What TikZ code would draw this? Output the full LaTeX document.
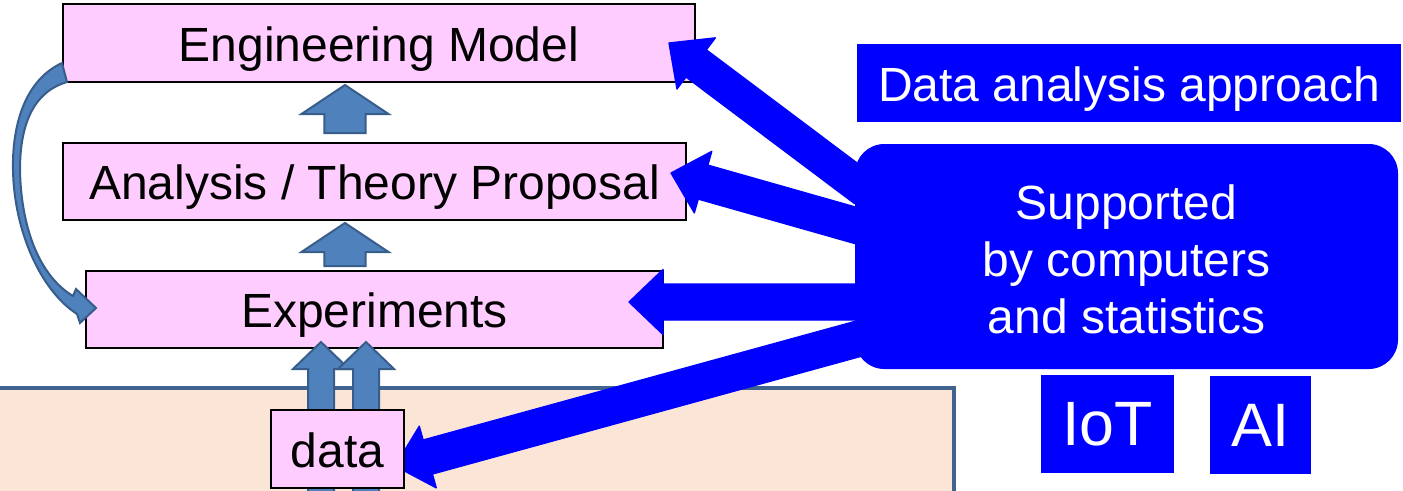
\documentclass[tikz,border=0pt]{standalone}
\usepackage{fontspec}
\setmainfont{Liberation Sans}
\usetikzlibrary{calc}

\definecolor{boxpink}{HTML}{FFCCFF}
\definecolor{groundfill}{HTML}{FBE5D6}
\definecolor{groundline}{HTML}{41648F}
\definecolor{steelfill}{HTML}{4F81BD}
\definecolor{steeldark}{HTML}{385D8A}
\definecolor{pureblue}{HTML}{0000FF}

\pgfdeclarelayer{front}
\pgfsetlayers{main,front}

% block arrow: #1 style, #2 tail, #3 tip, #4 half shaft width, #5 half head width, #6 head length
\newcommand\blockarrow[6]{%
  \coordinate (ba-h) at ($(#3)!#6!(#2)$);
  \path[#1] (#3) -- ($(ba-h)!#5!90:(#3)$) -- ($(ba-h)!#4!90:(#3)$)
    -- ($(#2)!#4!90:(#3)$) -- ($(#2)!#4!-90:(#3)$)
    -- ($(ba-h)!#4!-90:(#3)$) -- ($(ba-h)!#5!-90:(#3)$) -- cycle;
}

\tikzset{
  bigtext/.style={font=\fontsize{36pt}{43pt}\selectfont},
  pinkbox/.style={draw=black, line width=1.5pt, fill=boxpink, inner sep=0pt, bigtext,
    text height=30pt, text depth=3pt},
  bluebox/.style={fill=pureblue, text=white, inner sep=0pt, bigtext},
  bluearrow/.style={fill=pureblue, draw=pureblue, line width=1pt, line join=round},
  steelarrow/.style={fill=steelfill, draw=steeldark, line width=1.5pt, line join=miter},
}

\begin{document}
\begin{tikzpicture}[x=0.75pt, y=-0.75pt]
\useasboundingbox (0,0) rectangle (1403,490);
\clip (0,0) rectangle (1403,490);

% ground area
\path[fill=groundfill, draw=groundline, line width=3pt] (-20,388) rectangle (954,530);

% process boxes
\node[pinkbox, minimum width=474pt, minimum height=58.5pt] (eng) at (379,43) {Engineering Model};
\node[pinkbox, minimum width=467.25pt, minimum height=57.75pt] (ana) at (374.5,181.5) {Analysis / Theory Proposal};
\node[pinkbox, minimum width=432.75pt, minimum height=57.75pt] (exp) at (374.5,309.5) {Experiments};

% right-hand panels
\node[bluebox, text height=30pt, text depth=3pt, minimum width=408pt, minimum height=58.5pt] (approach) at (1129,83) {Data analysis approach};
\node[bluebox, rounded corners=22pt, minimum width=407.25pt, minimum height=168.75pt] (sup) at (1126.5,256.5) {};
\node[text=white, bigtext, align=center, inner sep=0pt] (suptext) at ($(sup.center)+(0,3)$)
  {Supported\\by computers\\and statistics};
\node[bluebox, font=\fontsize{47pt}{50pt}\selectfont, minimum width=99.75pt, minimum height=73.5pt] (iot) at (1107.5,424) {IoT};
\node[bluebox, font=\fontsize{46pt}{50pt}\selectfont, minimum width=75.75pt, minimum height=73.5pt] (ai) at (1260.5,425) {AI};

\begin{pgfonlayer}{front}
\node[pinkbox, minimum width=99.75pt, minimum height=58.5pt] (data) at (337.5,449) {data};
\end{pgfonlayer}

% arrow end points
\coordinate (tEng) at ($(eng.east)+(-27,0)$);
\coordinate (tAna) at ($(ana.east)+(-16,-8.5)$);
\coordinate (tExp) at ($(exp.east)+(-35,-7.5)$);
\coordinate (tData) at ($(data.east)+(-10,17)$);
\coordinate (sEng) at ($(sup.west)+(10,-66.5)$);
\coordinate (sAna) at ($(sup.west)+(10,-28.5)$);
\coordinate (sExp) at ($(sup.west)+(10,45.5)$);
\coordinate (sData) at ($(sup.west)+(10,80.5)$);

\coordinate (upA1) at ($(ana.north)+(-29.5,-9)$);
\coordinate (upA2) at ($(eng.south)+(-34,2)$);
\coordinate (upB1) at ($(exp.north)+(-29.5,-4)$);
\coordinate (upB2) at ($(ana.south)+(-29.5,2)$);
\coordinate (dA1) at ($(data.south)+(-16.5,14)$);
\coordinate (dA2) at ($(exp.south)+(-53.5,-7)$);
\coordinate (dB1) at ($(data.south)+(28.5,14)$);
\coordinate (dB2) at ($(exp.south)+(-8.5,-7)$);

% data feeding the experiments
\blockarrow{steelarrow}{dA1}{dA2}{9.75pt}{21pt}{20.25pt}
\blockarrow{steelarrow}{dB1}{dB2}{9.75pt}{21pt}{20.25pt}

% upward progression
\blockarrow{steelarrow}{upB1}{upB2}{15.4pt}{32.6pt}{21.75pt}
\blockarrow{steelarrow}{upA1}{upA2}{15.4pt}{32.6pt}{21.75pt}

% feedback from the model back to the experiments
\path[steelarrow]
  ($(eng.south west)+(0,-20)$) .. controls (25,80) and (12,125) .. (13,170)
  .. controls (14,230) and (40,290) .. (77,314) -- (80,323)
  -- ($(exp.west)+(11,-1.5)$) -- (76,289) -- (73,296)
  .. controls (38,275) and (21,225) .. (20,170)
  .. controls (20,125) and (33,92) .. ($(eng.south west)+(5,-1)$) -- cycle;

% support arrows
\blockarrow{bluearrow}{sEng}{tEng}{12.75pt}{24pt}{25.5pt}
\blockarrow{bluearrow}{sAna}{tAna}{13.25pt}{24pt}{25pt}
\blockarrow{bluearrow}{sExp}{tExp}{13.5pt}{24.4pt}{25.5pt}
\blockarrow{bluearrow}{sData}{tData}{13.25pt}{24pt}{25.5pt}
\end{tikzpicture}
\end{document}
